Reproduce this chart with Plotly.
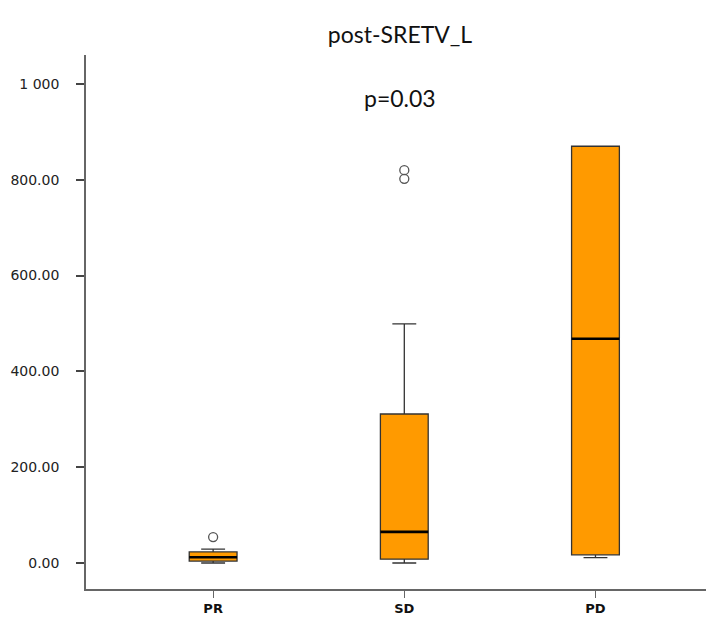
import plotly.graph_objects as go

categories = ["PR", "SD", "PD"]
q1 = [4, 8, 17]
median = [12, 65, 468]
q3 = [23, 311, 870]
lowerfence = [0, 0, 11]
upperfence = [29, 499, 870]
outlier_cat = [0, 1, 1]
outlier_val = [54, 820, 802]

tick_vals = [0, 200, 400, 600, 800, 1000]
tick_text = ["0.00", "200.00", "400.00", "600.00", "800.00", "1 000"]

BOX_W = 0.25
FILL = "#FF9A00"

# page body has an 8px default margin; figure sized to fit the 714x621 window
W, H = 706, 613

fig = go.Figure()
for i, c in enumerate(categories):
    fig.add_trace(go.Box(
        x=[i], q1=[q1[i]], median=[median[i]], q3=[q3[i]],
        lowerfence=[lowerfence[i]], upperfence=[upperfence[i]],
        width=BOX_W, whiskerwidth=0.5, fillcolor=FILL,
        line=dict(color="#333333", width=1.3), boxpoints=False,
        showlegend=False, hoverinfo="skip"))
    # thicker black median line
    fig.add_trace(go.Scatter(
        x=[i - BOX_W / 2, i + BOX_W / 2], y=[median[i], median[i]],
        mode="lines", line=dict(color="black", width=2.6),
        showlegend=False, hoverinfo="skip"))

fig.add_trace(go.Scatter(
    x=outlier_cat, y=outlier_val, mode="markers",
    marker=dict(symbol="circle-open", size=9, color="#555555",
                line=dict(width=1.3, color="#555555")),
    showlegend=False, hoverinfo="skip"))

fig.update_layout(
    width=W, height=H,
    margin=dict(l=78, r=0, t=47, b=32, autoexpand=False),
    paper_bgcolor="white", plot_bgcolor="white",
    title=dict(text="post-SRETV_L", x=0.5, xref="paper", y=1 - 27 / H,
               yanchor="middle", xanchor="center",
               font=dict(family="Lato, Open Sans, sans-serif", size=23, color="#111")),
    annotations=[dict(text="p=0.03", xref="paper", yref="paper",
                      x=0.5, y=(589 - 98) / 534, showarrow=False,
                      xanchor="center", yanchor="middle",
                      font=dict(family="Lato, Open Sans, sans-serif", size=23, color="#111"))],
)

fig.update_xaxes(
    range=[-0.665, 2.62], tickmode="array", tickvals=[0, 1, 2],
    ticktext=["<b>%s</b>" % c for c in categories],
    showline=True, linecolor="#666666", linewidth=1.6,
    ticks="outside", ticklen=7, tickcolor="#666666", tickwidth=1.4,
    showgrid=False, zeroline=False, automargin=False,
    tickfont=dict(family="DejaVu Sans, sans-serif", size=13, color="#111"))

fig.update_yaxes(
    range=[-54.3, 1060.5], tickmode="array", tickvals=tick_vals, ticktext=tick_text,
    showline=True, linecolor="#666666", linewidth=1.6,
    ticks="outside", ticklen=8, tickcolor="#444444", tickwidth=1.6,
    showgrid=False, zeroline=False, ticklabelstandoff=14, automargin=False,
    tickfont=dict(family="DejaVu Sans, sans-serif", size=14, color="#222"))

fig.write_html("out.html")
